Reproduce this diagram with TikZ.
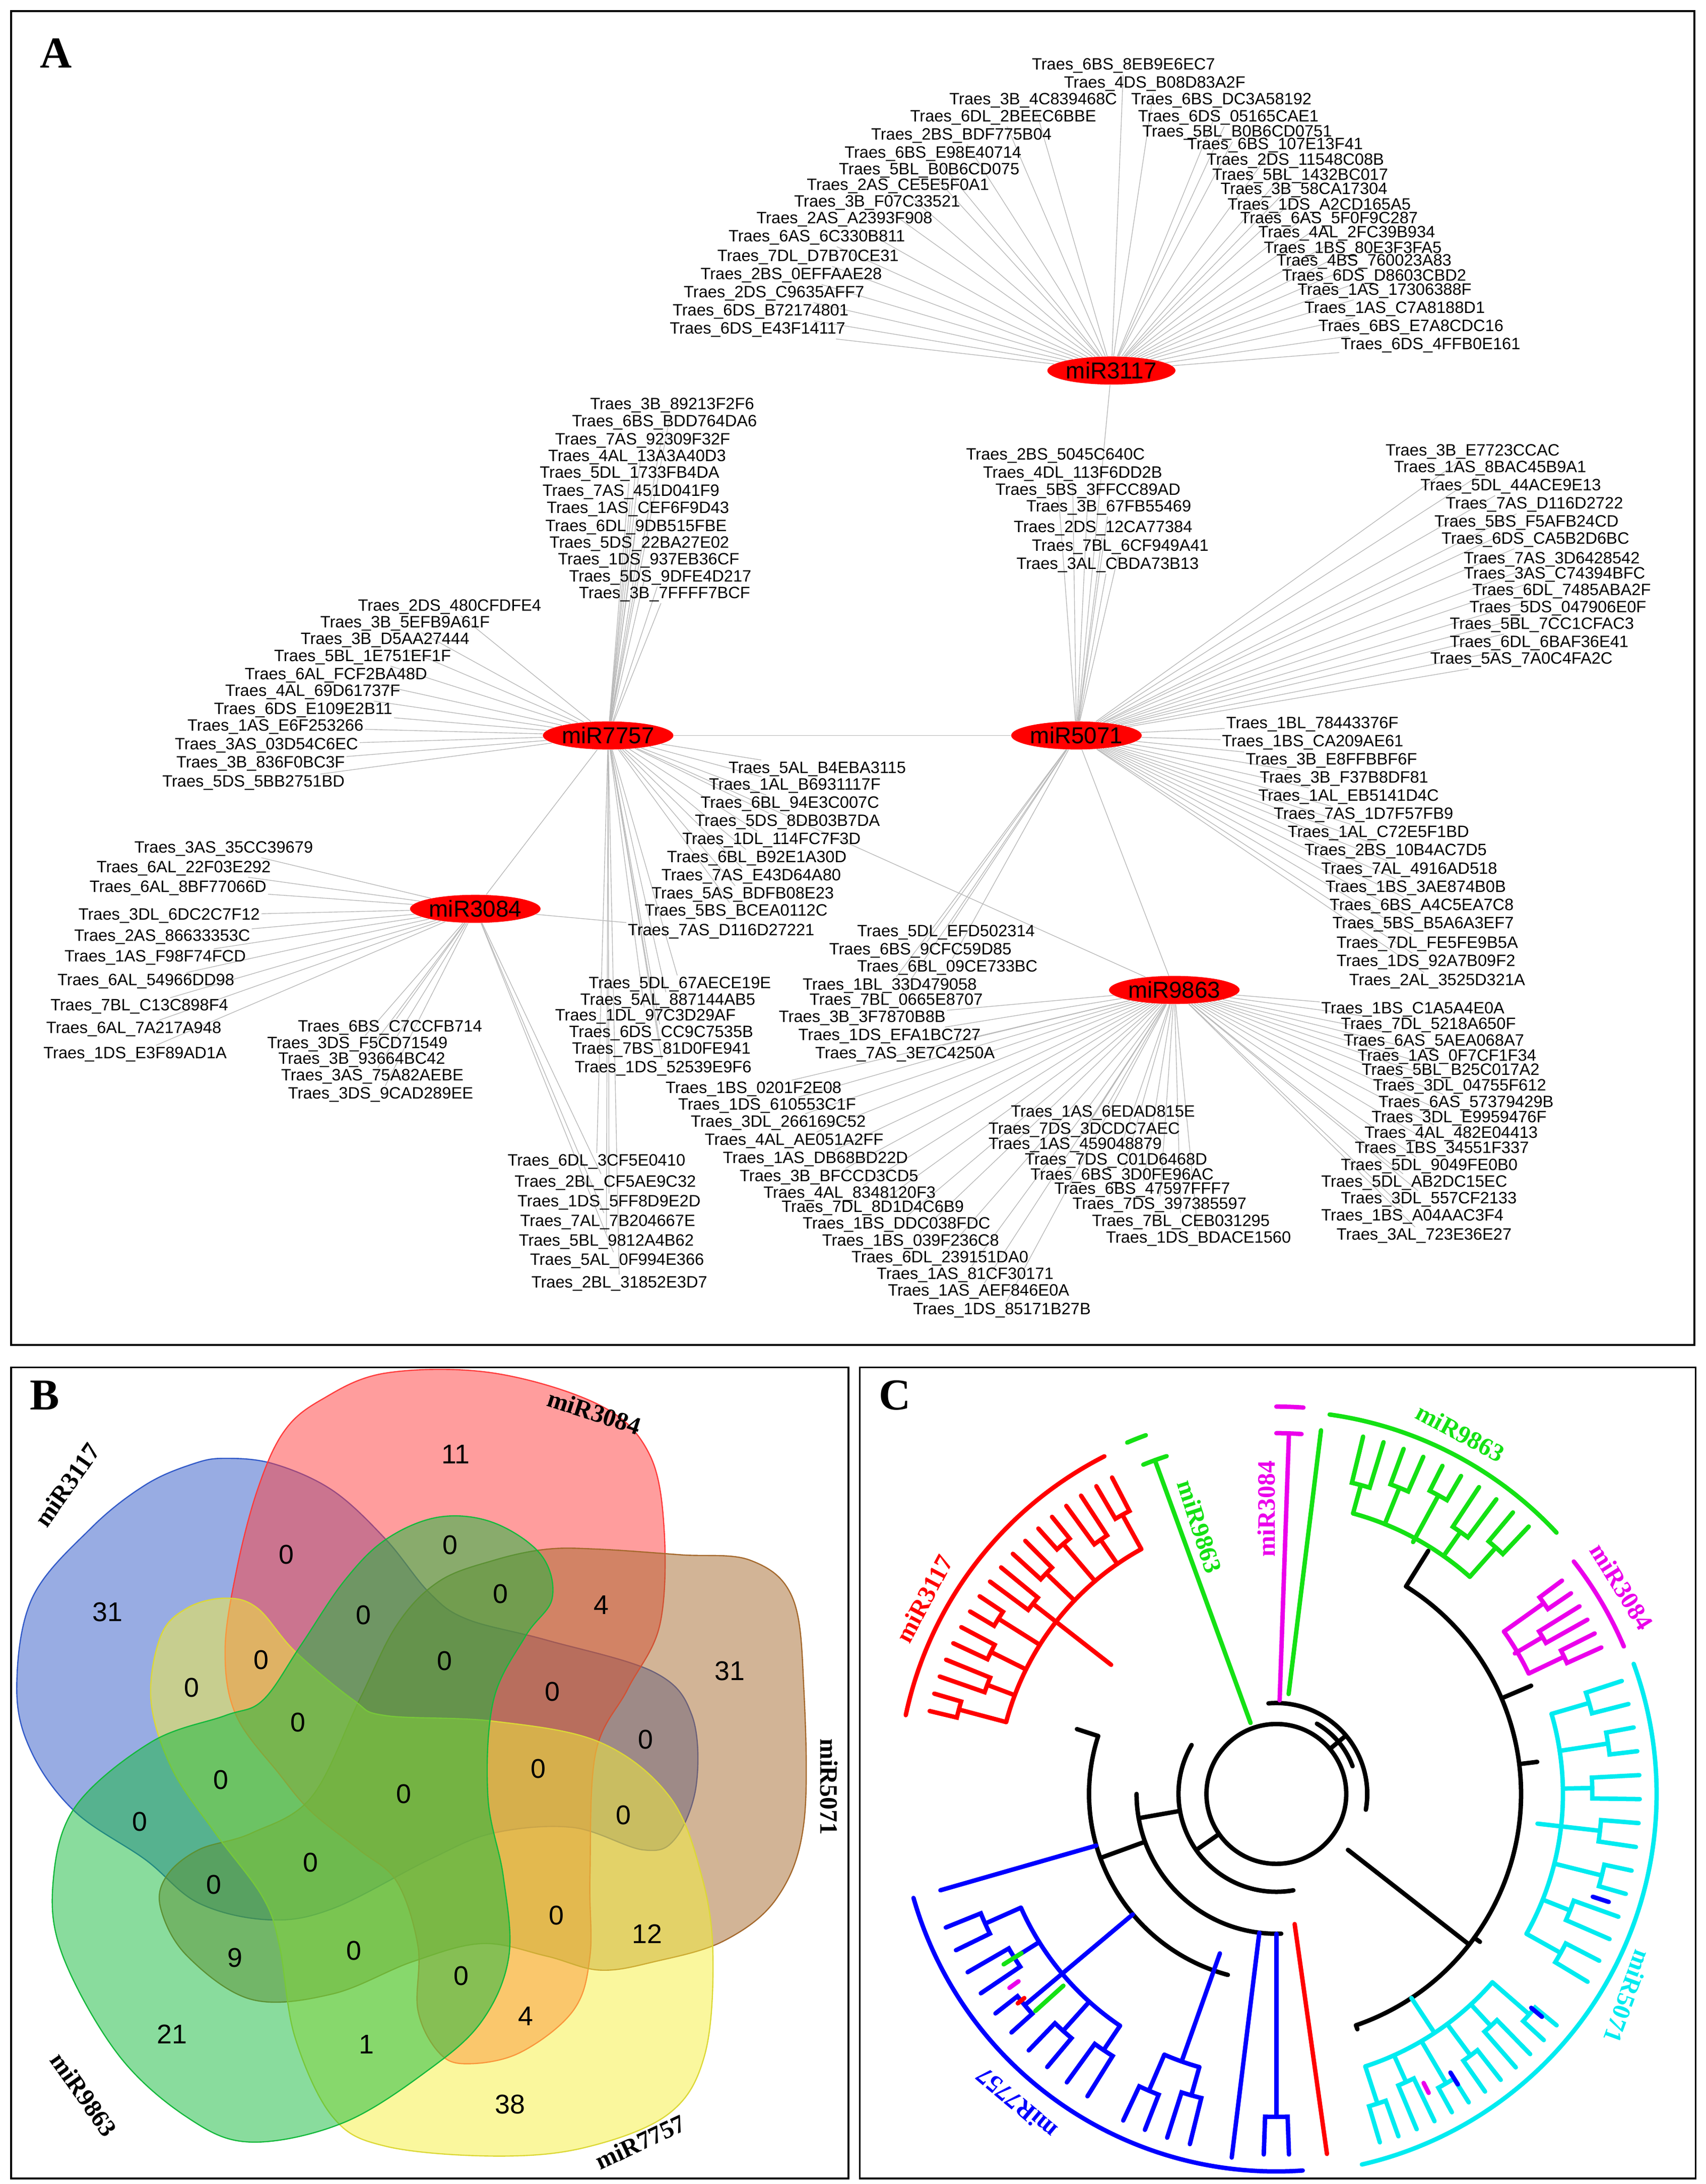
\documentclass[tikz,border=0pt]{standalone}
\usepackage{fontspec}
\setmainfont{Liberation Sans}
\newfontfamily\serif{Liberation Serif}
\usetikzlibrary{shapes.geometric,backgrounds}
\definecolor{vblue}{RGB}{50,90,200}
\definecolor{vred}{RGB}{255,60,60}
\definecolor{vbrown}{RGB}{165,105,45}
\definecolor{vyel}{RGB}{245,240,60}
\definecolor{vgreen}{RGB}{20,185,60}
\definecolor{ccyan}{RGB}{0,235,240}
\definecolor{cgreen}{RGB}{20,225,20}
\definecolor{cmag}{RGB}{235,0,235}
\tikzset{
 lbl/.style={anchor=west,inner sep=0.6pt,font=\fontsize{8.2}{9}\selectfont},
 hub/.style={ellipse,fill=red,minimum width=50pt,minimum height=14pt,inner sep=0pt,font=\fontsize{11.5}{12}\selectfont},
 edge/.style={gray!55,line width=0.35pt},
 frame/.style={line width=0.9pt},
 letter/.style={font=\serif\bfseries\fontsize{22}{24}\selectfont},
 num/.style={font=\fontsize{13.5}{14}\selectfont},
 vlab/.style={font=\serif\bfseries\fontsize{12.5}{13}\selectfont},
 blob/.style={line width=0.6pt,fill opacity=0.5,smooth cycle,tension=0.6},
 br/.style={line width=2.2pt,line cap=round},
 clab/.style={font=\serif\bfseries\fontsize{12.5}{13}\selectfont}
}
\newcommand\lab[4]{\node[lbl] (t) at (#2,#3) {#4};
 \begin{scope}[on background layer]\draw[edge] (#1) -- (t);\end{scope}}
% clade: color, a1, a2, npairs, rbase, rtip
\newcommand\clade[6]{%
 \pgfmathsetmacro\da{(#3-#2)/(2*#4)}%
 \foreach \j in {1,...,#4}{%
  \pgfmathsetmacro\aa{#2+(2*\j-1.5)*\da}%
  \pgfmathsetmacro\ab{#2+(2*\j-0.5)*\da}%
  \pgfmathsetmacro\am{#2+(2*\j-1)*\da}%
  \pgfmathsetmacro\ri{#6-20-mod(\j,3)*7}%
  \draw[br,#1] (\aa:#6) -- (\aa:\ri) arc[start angle=\aa,end angle=\ab,radius=\ri] -- (\ab:#6);
  \draw[br,#1] (\am:\ri) -- (\am:#6-55);
 }%
 \pgfmathsetmacro\fa{#2+\da}\pgfmathsetmacro\la{#3-\da}\pgfmathsetmacro\ma{(#2+#3)/2}%
 \draw[br,#1] (\fa:#6-55) arc[start angle=\fa,end angle=\la,radius=#6-55];
 \draw[br,#1] (\ma:#6-55) -- (\ma:#5);
}
\begin{document}
\begin{tikzpicture}[x=0.697pt,y=-0.697pt]
\useasboundingbox (0,0) rectangle (1220,1562);
% ================= Panel A =================
\draw[frame] (8,8) rectangle (1212,962);
\node[letter] (la) at (40,38) {A};
\node[hub] (h3117) at (795,265) {miR3117};
\node[hub] (h7757) at (435,526) {miR7757};
\node[hub] (h5071) at (770,526) {miR5071};
\node[hub] (h3084) at (340,650) {miR3084};
\node[hub] (h9863) at (840,708) {miR9863};
% miR3117
\lab{h3117}{737}{47}{Traes\_6BS\_8EB9E6EC7}
\lab{h3117}{760}{60}{Traes\_4DS\_B08D83A2F}
\lab{h3117}{678}{72}{Traes\_3B\_4C839468C}
\lab{h3117}{808}{72}{Traes\_6BS\_DC3A58192}
\lab{h3117}{650}{84}{Traes\_6DL\_2BEEC6BBE}
\lab{h3117}{813}{84}{Traes\_6DS\_05165CAE1}
\lab{h3117}{622}{97}{Traes\_2BS\_BDF775B04}
\lab{h3117}{816}{95}{Traes\_5BL\_B0B6CD0751}
\lab{h3117}{603}{110}{Traes\_6BS\_E98E40714}
\lab{h3117}{848}{104}{Traes\_6BS\_107E13F41}
\lab{h3117}{599}{122}{Traes\_5BL\_B0B6CD075}
\lab{h3117}{862}{115}{Traes\_2DS\_11548C08B}
\lab{h3117}{576}{133}{Traes\_2AS\_CE5E5F0A1}
\lab{h3117}{866}{126}{Traes\_5BL\_1432BC017}
\lab{h3117}{567}{145}{Traes\_3B\_F07C33521}
\lab{h3117}{872}{136}{Traes\_3B\_58CA17304}
\lab{h3117}{877}{147}{Traes\_1DS\_A2CD165A5}
\lab{h3117}{540}{157}{Traes\_2AS\_A2393F908}
\lab{h3117}{886}{157}{Traes\_6AS\_5F0F9C287}
\lab{h3117}{520}{170}{Traes\_6AS\_6C330B811}
\lab{h3117}{899}{167}{Traes\_4AL\_2FC39B934}
\lab{h3117}{512}{184}{Traes\_7DL\_D7B70CE31}
\lab{h3117}{903}{178}{Traes\_1BS\_80E3F3FA5}
\lab{h3117}{912}{187}{Traes\_4BS\_760023A83}
\lab{h3117}{500}{197}{Traes\_2BS\_0EFFAAE28}
\lab{h3117}{916}{198}{Traes\_6DS\_D8603CBD2}
\lab{h3117}{488}{210}{Traes\_2DS\_C9635AFF7}
\lab{h3117}{927}{208}{Traes\_1AS\_17306388F}
\lab{h3117}{480}{223}{Traes\_6DS\_B72174801}
\lab{h3117}{932}{221}{Traes\_1AS\_C7A8188D1}
\lab{h3117}{478}{236}{Traes\_6DS\_E43F14117}
\lab{h3117}{942}{234}{Traes\_6BS\_E7A8CDC16}
\lab{h3117}{958}{247}{Traes\_6DS\_4FFB0E161}
% miR7757 top
\lab{h7757}{421}{290}{Traes\_3B\_89213F2F6}
\lab{h7757}{408}{302}{Traes\_6BS\_BDD764DA6}
\lab{h7757}{396}{315}{Traes\_7AS\_92309F32F}
\lab{h7757}{391}{327}{Traes\_4AL\_13A3A40D3}
\lab{h7757}{385}{339}{Traes\_5DL\_1733FB4DA}
\lab{h7757}{387}{352}{Traes\_7AS\_451D041F9}
\lab{h7757}{390}{364}{Traes\_1AS\_CEF6F9D43}
\lab{h7757}{389}{377}{Traes\_6DL\_9DB515FBE}
\lab{h7757}{392}{389}{Traes\_5DS\_22BA27E02}
\lab{h7757}{398}{401}{Traes\_1DS\_937EB36CF}
\lab{h7757}{406}{413}{Traes\_5DS\_9DFE4D217}
\lab{h7757}{413}{425}{Traes\_3B\_7FFFF7BCF}
% miR7757 left
\lab{h7757}{255}{434}{Traes\_2DS\_480CFDFE4}
\lab{h7757}{228}{446}{Traes\_3B\_5EFB9A61F}
\lab{h7757}{214}{458}{Traes\_3B\_D5AA27444}
\lab{h7757}{195}{470}{Traes\_5BL\_1E751EF1F}
\lab{h7757}{174}{483}{Traes\_6AL\_FCF2BA48D}
\lab{h7757}{160}{495}{Traes\_4AL\_69D61737F}
\lab{h7757}{152}{508}{Traes\_6DS\_E109E2B11}
\lab{h7757}{133}{520}{Traes\_1AS\_E6F253266}
\lab{h7757}{124}{533}{Traes\_3AS\_03D54C6EC}
\lab{h7757}{125}{546}{Traes\_3B\_836F0BC3F}
\lab{h7757}{115}{560}{Traes\_5DS\_5BB2751BD}
% miR5071 upper middle
\lab{h5071}{690}{326}{Traes\_2BS\_5045C640C}
\lab{h5071}{702}{339}{Traes\_4DL\_113F6DD2B}
\lab{h5071}{711}{351}{Traes\_5BS\_3FFCC89AD}
\lab{h5071}{733}{363}{Traes\_3B\_67FB55469}
\lab{h5071}{724}{378}{Traes\_2DS\_12CA77384}
\lab{h5071}{737}{391}{Traes\_7BL\_6CF949A41}
\lab{h5071}{726}{404}{Traes\_3AL\_CBDA73B13}
% miR5071 right upper
\lab{h5071}{990}{323}{Traes\_3B\_E7723CCAC}
\lab{h5071}{996}{335}{Traes\_1AS\_8BAC45B9A1}
\lab{h5071}{1015}{348}{Traes\_5DL\_44ACE9E13}
\lab{h5071}{1033}{361}{Traes\_7AS\_D116D2722}
\lab{h5071}{1025}{374}{Traes\_5BS\_F5AFB24CD}
\lab{h5071}{1030}{386}{Traes\_6DS\_CA5B2D6BC}
\lab{h5071}{1046}{400}{Traes\_7AS\_3D6428542}
\lab{h5071}{1046}{411}{Traes\_3AS\_C74394BFC}
\lab{h5071}{1052}{423}{Traes\_6DL\_7485ABA2F}
\lab{h5071}{1050}{435}{Traes\_5DS\_047906E0F}
\lab{h5071}{1036}{447}{Traes\_5BL\_7CC1CFAC3}
\lab{h5071}{1036}{460}{Traes\_6DL\_6BAF36E41}
\lab{h5071}{1022}{472}{Traes\_5AS\_7A0C4FA2C}
% miR5071 right lower
\lab{h5071}{876}{518}{Traes\_1BL\_78443376F}
\lab{h5071}{873}{531}{Traes\_1BS\_CA209AE61}
\lab{h5071}{890}{544}{Traes\_3B\_E8FFBBF6F}
\lab{h5071}{900}{557}{Traes\_3B\_F37B8DF81}
\lab{h5071}{899}{570}{Traes\_1AL\_EB5141D4C}
\lab{h5071}{910}{583}{Traes\_7AS\_1D7F57FB9}
\lab{h5071}{920}{596}{Traes\_1AL\_C72E5F1BD}
\lab{h5071}{932}{609}{Traes\_2BS\_10B4AC7D5}
\lab{h5071}{944}{622}{Traes\_7AL\_4916AD518}
\lab{h5071}{947}{635}{Traes\_1BS\_3AE874B0B}
\lab{h5071}{950}{648}{Traes\_6BS\_A4C5EA7C8}
\lab{h5071}{952}{661}{Traes\_5BS\_B5A6A3EF7}
\lab{h5071}{955}{675}{Traes\_7DL\_FE5FE9B5A}
\lab{h5071}{955}{688}{Traes\_1DS\_92A7B09F2}
\lab{h5071}{964}{702}{Traes\_2AL\_3525D321A}
% miR9863 right
\lab{h9863}{944}{722}{Traes\_1BS\_C1A5A4E0A}
\lab{h9863}{958}{733}{Traes\_7DL\_5218A650F}
\lab{h9863}{960}{745}{Traes\_6AS\_5AEA068A7}
\lab{h9863}{970}{756}{Traes\_1AS\_0F7CF1F34}
\lab{h9863}{973}{766}{Traes\_5BL\_B25C017A2}
\lab{h9863}{981}{777}{Traes\_3DL\_04755F612}
\lab{h9863}{985}{789}{Traes\_6AS\_57379429B}
\lab{h9863}{980}{800}{Traes\_3DL\_E9959476F}
\lab{h9863}{975}{811}{Traes\_4AL\_482E04413}
\lab{h9863}{968}{822}{Traes\_1BS\_34551F337}
\lab{h9863}{958}{834}{Traes\_5DL\_9049FE0B0}
\lab{h9863}{944}{846}{Traes\_5DL\_AB2DC15EC}
\lab{h9863}{958}{858}{Traes\_3DL\_557CF2133}
\lab{h9863}{944}{870}{Traes\_1BS\_A04AAC3F4}
\lab{h9863}{955}{884}{Traes\_3AL\_723E36E27}
% miR9863 lower middle
\lab{h9863}{722}{796}{Traes\_1AS\_6EDAD815E}
\lab{h9863}{706}{808}{Traes\_7DS\_3DCDC7AEC}
\lab{h9863}{706}{819}{Traes\_1AS\_459048879}
\lab{h9863}{732}{830}{Traes\_7DS\_C01D6468D}
\lab{h9863}{736}{841}{Traes\_6BS\_3D0FE96AC}
\lab{h9863}{753}{851}{Traes\_6BS\_47597FFF7}
\lab{h9863}{766}{862}{Traes\_7DS\_397385597}
\lab{h9863}{780}{874}{Traes\_7BL\_CEB031295}
\lab{h9863}{790}{886}{Traes\_1DS\_BDACE1560}
% lower middle chain
\lab{h9863}{475}{779}{Traes\_1BS\_0201F2E08}
\lab{h9863}{484}{791}{Traes\_1DS\_610553C1F}
\lab{h9863}{493}{803}{Traes\_3DL\_266169C52}
\lab{h9863}{503}{816}{Traes\_4AL\_AE051A2FF}
\lab{h9863}{516}{829}{Traes\_1AS\_DB68BD22D}
\lab{h9863}{528}{842}{Traes\_3B\_BFCCD3CD5}
\lab{h9863}{545}{854}{Traes\_4AL\_8348120F3}
\lab{h9863}{558}{864}{Traes\_7DL\_8D1D4C6B9}
\lab{h9863}{573}{876}{Traes\_1BS\_DDC038FDC}
\lab{h9863}{587}{888}{Traes\_1BS\_039F236C8}
\lab{h9863}{608}{900}{Traes\_6DL\_239151DA0}
\lab{h9863}{626}{912}{Traes\_1AS\_81CF30171}
\lab{h9863}{634}{924}{Traes\_1AS\_AEF846E0A}
\lab{h9863}{652}{937}{Traes\_1DS\_85171B27B}
% miR7757 lower middle
\lab{h7757}{520}{550}{Traes\_5AL\_B4EBA3115}
\lab{h7757}{506}{562}{Traes\_1AL\_B6931117F}
\lab{h7757}{500}{575}{Traes\_6BL\_94E3C007C}
\lab{h7757}{496}{588}{Traes\_5DS\_8DB03B7DA}
\lab{h7757}{487}{601}{Traes\_1DL\_114FC7F3D}
\lab{h7757}{476}{614}{Traes\_6BL\_B92E1A30D}
\lab{h7757}{472}{627}{Traes\_7AS\_E43D64A80}
\lab{h7757}{465}{640}{Traes\_5AS\_BDFB08E23}
\lab{h7757}{460}{652}{Traes\_5BS\_BCEA0112C}
\lab{h3084}{448}{666}{Traes\_7AS\_D116D27221}
% middle
\lab{h5071}{612}{667}{Traes\_5DL\_EFD502314}
\lab{h5071}{592}{680}{Traes\_6BS\_9CFC59D85}
\lab{h5071}{612}{692}{Traes\_6BL\_09CE733BC}
\lab{h7757}{420}{704}{Traes\_5DL\_67AECE19E}
\lab{h5071}{573}{705}{Traes\_1BL\_33D479058}
\lab{h7757}{414}{716}{Traes\_5AL\_887144AB5}
\lab{h5071}{578}{716}{Traes\_7BL\_0665E8707}
\lab{h7757}{396}{727}{Traes\_1DL\_97C3D29AF}
\lab{h9863}{556}{728}{Traes\_3B\_3F7870B8B}
\lab{h7757}{406}{739}{Traes\_6DS\_CC9C7535B}
\lab{h9863}{570}{741}{Traes\_1DS\_EFA1BC727}
\lab{h7757}{408}{751}{Traes\_7BS\_81D0FE941}
\lab{h9863}{582}{754}{Traes\_7AS\_3E7C4250A}
\lab{h7757}{410}{764}{Traes\_1DS\_52539E9F6}
% miR3084 left
\lab{h3084}{95}{607}{Traes\_3AS\_35CC39679}
\lab{h3084}{68}{621}{Traes\_6AL\_22F03E292}
\lab{h3084}{63}{635}{Traes\_6AL\_8BF77066D}
\lab{h3084}{55}{655}{Traes\_3DL\_6DC2C7F12}
\lab{h3084}{52}{670}{Traes\_2AS\_86633353C}
\lab{h3084}{45}{685}{Traes\_1AS\_F98F74FCD}
\lab{h3084}{40}{702}{Traes\_6AL\_54966DD98}
\lab{h3084}{35}{720}{Traes\_7BL\_C13C898F4}
\lab{h3084}{32}{736}{Traes\_6AL\_7A217A948}
\lab{h3084}{30}{754}{Traes\_1DS\_E3F89AD1A}
% miR3084 lower
\lab{h3084}{212}{735}{Traes\_6BS\_C7CCFB714}
\lab{h3084}{190}{747}{Traes\_3DS\_F5CD71549}
\lab{h3084}{198}{758}{Traes\_3B\_93664BC42}
\lab{h3084}{200}{770}{Traes\_3AS\_75A82AEBE}
\lab{h3084}{205}{783}{Traes\_3DS\_9CAD289EE}
% bottom
\lab{h7757}{362}{831}{Traes\_6DL\_3CF5E0410}
\lab{h3084}{367}{846}{Traes\_2BL\_CF5AE9C32}
\lab{h7757}{369}{860}{Traes\_1DS\_5FF8D9E2D}
\lab{h3084}{371}{874}{Traes\_7AL\_7B204667E}
\lab{h7757}{370}{888}{Traes\_5BL\_9812A4B62}
\lab{h3084}{378}{902}{Traes\_5AL\_0F994E366}
\lab{h7757}{379}{918}{Traes\_2BL\_31852E3D7}
\begin{scope}[on background layer]
\draw[edge] (h7757) -- (h5071); \draw[edge] (h7757) -- (h3084);
\draw[edge] (h5071) -- (h9863); \draw[edge] (h7757) -- (h9863);
\draw[edge] (h3117) -- (h5071);
\end{scope}
% ================= Panel B =================
\draw[frame] (8,978) rectangle (607,1558);
\node[letter] (lb) at (32,998) {B};
\draw[blob,draw=vblue,fill=vblue] plot coordinates {(161,1043) (196,1047) (238,1066) (276,1101) (307,1139) (334,1158) (391,1173) (468,1196) (495,1227) (498,1277) (483,1315) (460,1323) (410,1307) (353,1311) (307,1330) (238,1365) (192,1373) (142,1361) (104,1330) (54,1296) (23,1254) (12,1208) (23,1143) (65,1093) (104,1062) (138,1047)};
\draw[blob,draw=vred,fill=vred] plot coordinates {(169,1124) (161,1181) (169,1227) (200,1269) (223,1296) (257,1323) (284,1346) (299,1392) (299,1438) (314,1468) (334,1476) (372,1468) (410,1438) (422,1399) (422,1342) (426,1254) (449,1208) (472,1162) (475,1093) (464,1039) (429,1005) (353,982) (276,982) (230,1001) (203,1024) (184,1066)};
\draw[blob,draw=vbrown,fill=vbrown] plot coordinates {(119,1342) (115,1365) (134,1399) (180,1430) (238,1426) (295,1403) (345,1390) (391,1399) (429,1409) (468,1403) (518,1388) (556,1357) (575,1304) (575,1208) (567,1143) (537,1116) (487,1112) (429,1108) (391,1108) (353,1116) (314,1131) (284,1162) (257,1216) (223,1285) (180,1311) (142,1323)};
\draw[blob,draw=vyel!90!black,fill=vyel] plot coordinates {(161,1143) (184,1150) (211,1181) (253,1216) (276,1227) (353,1231) (429,1246) (479,1285) (502,1342) (510,1399) (504,1470) (478,1512) (418,1536) (353,1542) (276,1535) (238,1514) (211,1457) (200,1392) (188,1357) (154,1311) (123,1265) (108,1216) (115,1170) (134,1150)};
\draw[blob,draw=vgreen,fill=vgreen] plot coordinates {(276,1101) (314,1085) (353,1089) (387,1112) (395,1143) (376,1170) (353,1216) (349,1285) (360,1342) (364,1399) (345,1445) (307,1480) (246,1518) (180,1532) (135,1515) (85,1470) (45,1399) (38,1346) (54,1292) (108,1246) (161,1227) (188,1216) (215,1177) (246,1131)};
\foreach \x/\y/\t [count=\k] in {326/1040/11, 77/1153/31, 205/1112/0, 322/1105/0, 358/1140/0, 430/1148/4, 260/1155/0, 187/1187/0, 318/1188/0, 522/1195/31, 137/1207/0, 213/1232/0, 395/1210/0, 462/1244/0, 158/1273/0, 289/1283/0, 385/1265/0, 100/1303/0, 446/1298/0, 222/1332/0, 153/1348/0, 398/1370/0, 463/1383/12, 168/1400/9, 253/1395/0, 330/1413/0, 376/1442/4, 123/1455/21, 262/1462/1, 365/1505/38}
 \node[num] (n\k) at (\x,\y) {\t};
\node[vlab,rotate=55] (v1) at (48,1062) {miR3117};
\node[vlab,rotate=-18] (v2) at (425,1010) {miR3084};
\node[vlab,rotate=-90] (v3) at (593,1278) {miR5071};
\node[vlab,rotate=-55] (v4) at (60,1498) {miR9863};
\node[vlab,rotate=25] (v5) at (458,1532) {miR7757};
% ================= Panel C =================
\draw[frame] (615,978) rectangle (1213,1558);
\node[letter] (lc) at (640,998) {C};
\begin{scope}[shift={(913,1283)},y=0.697pt]
\draw[br] (0,0) circle[radius=50];
% right backbone
\draw[br] (-10:65) arc[start angle=-10,end angle=95,radius=65];
\draw[br] (40:50) -- (40:65);
\draw[br] (20:58) arc[start angle=20,end angle=60,radius=58];
\draw[br] (-38:65) -- (-38:175);
\draw[br] (-71:175) arc[start angle=-71,end angle=58,radius=175];
\draw[br] (58:175) -- (58:205); \draw[br] (23:175) -- (23:198);
\draw[br] (7:175) -- (7:188); \draw[br] (-36:175) -- (-36:180);
\draw[br] (-71:175) -- (-71:178);
% left backbone
\draw[br] (150:70) arc[start angle=150,end angle=280,radius=70];
\draw[br] (215:50) -- (215:70);
\draw[br] (180:100) arc[start angle=180,end angle=272,radius=100];
\draw[br] (190:70) -- (190:100);
\draw[br] (162:134) arc[start angle=162,end angle=255,radius=134];
\draw[br] (200:100) -- (200:134);
\draw[br] (162:134) -- (162:150);
% singles
\draw[br,cgreen] (110:54) -- (110:254);
\draw[br,cgreen] (108:254) arc[start angle=108,end angle=112,radius=254];
\draw[br,cmag] (88:67) -- (88:258);
\draw[br,cmag] (86:258) arc[start angle=86,end angle=90,radius=258];
\draw[br,cgreen] (83:72) -- (83:262);
\draw[br,blue] (196:134) -- (196:250);
\draw[br,blue] (263:100) -- (263:262);
\draw[br,red] (278:94) -- (278:260);
% clades
\clade{red}{116}{168}{9}{150}{255}
\clade{blue}{200}{240}{5}{134}{255}
\clade{blue}{243}{258}{2}{121}{258}
\clade{blue}{266}{274}{1}{100}{258}
\clade{ccyan}{-75}{-38}{6}{175}{260}
\clade{ccyan}{-33}{20}{7}{188}{260}
\clade{cmag}{23}{38}{3}{198}{255}
\clade{cgreen}{45}{78}{5}{205}{263}
\draw[br,cgreen] (212:215) -- (212:230); \draw[br,cgreen] (222:205) -- (222:232);
\draw[br,cmag] (216:228) -- (216:236); \draw[br,red] (219:232) -- (219:238);
\draw[br,blue] (-18:238) -- (-18:250); \draw[br,blue] (-40:238) -- (-40:248);
\draw[br,blue] (-58:235) -- (-58:245); \draw[br,cmag] (-63:232) -- (-63:240);
% outer arcs
\draw[br,red] (117:271) arc[start angle=117,end angle=168,radius=271];
\draw[br,cgreen] (110:273) arc[start angle=110,end angle=113,radius=273];
\draw[br,cmag] (86:277) arc[start angle=86,end angle=90,radius=277];
\draw[br,cgreen] (43:274) arc[start angle=43,end angle=82,radius=274];
\draw[br,cmag] (23:270) arc[start angle=23,end angle=38,radius=270];
\draw[br,ccyan] (-77:272) arc[start angle=-77,end angle=20,radius=272];
\draw[br,blue] (196:270) arc[start angle=196,end angle=274,radius=270];
\node[clab,red,rotate=62] (c1) at (151:288) {miR3117};
\node[clab,cgreen,rotate=-72] (c2) at (106:199) {miR9863};
\node[clab,cmag,rotate=90] (c3) at (92:204) {miR3084};
\node[clab,cgreen,rotate=-28] (c4) at (63:290) {miR9863};
\node[clab,cmag,rotate=-58] (c5) at (31:288) {miR3084};
\node[clab,ccyan,rotate=-110] (c6) at (-30:290) {miR5071};
\node[clab,blue,rotate=140] (c7) at (230:289) {miR7757};
\end{scope}
\end{tikzpicture}
\end{document}
